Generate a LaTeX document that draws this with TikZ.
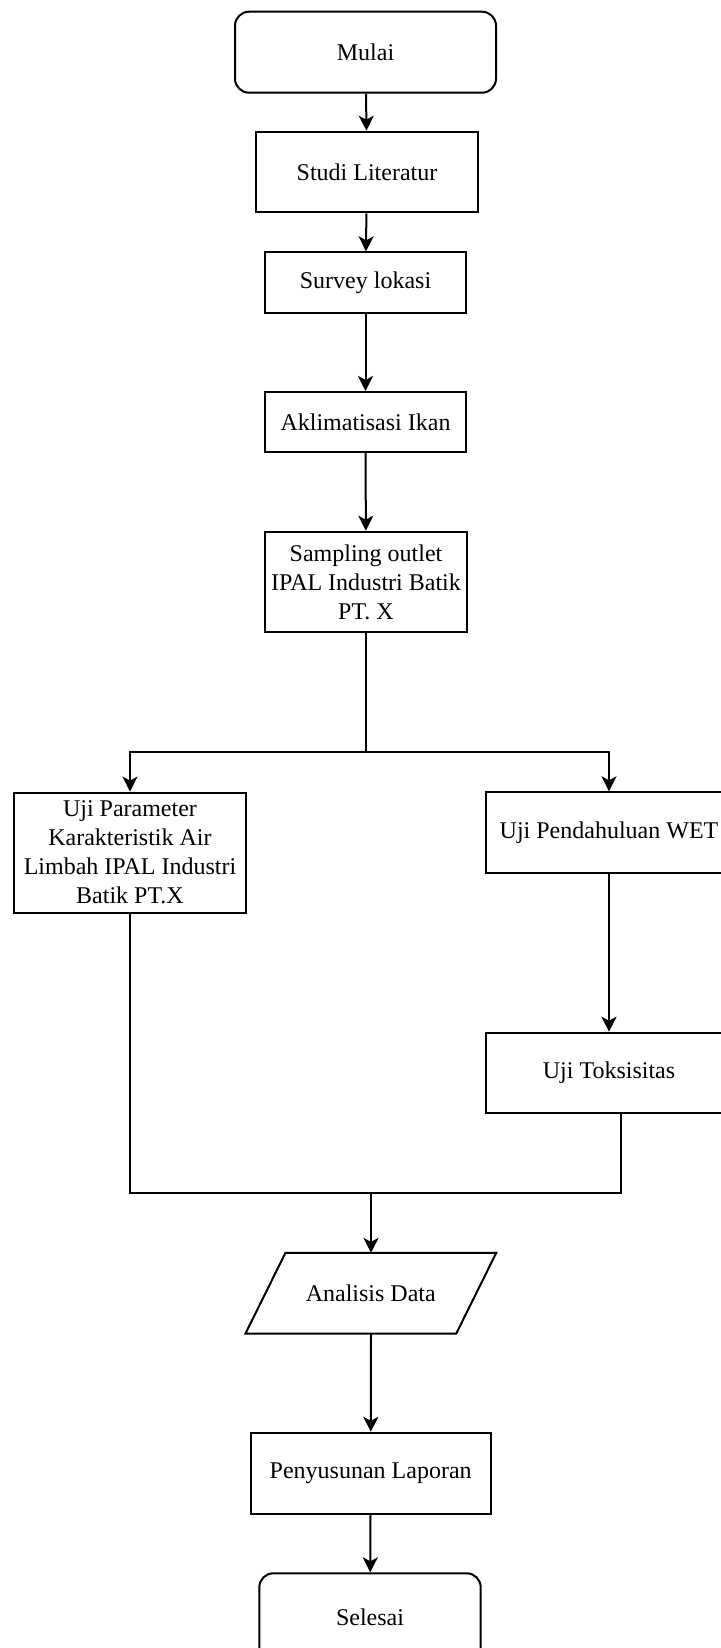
\documentclass[tikz,border=0pt]{standalone}
\usepackage{fontspec}
\setmainfont{Liberation Serif}
\usetikzlibrary{arrows.meta}
\tikzset{
  box/.style={draw, line width=1pt, align=center, inner sep=2pt,
    font=\fontsize{12}{14.5}\selectfont},
  proc/.style={box, rectangle},
  term/.style={box, rectangle, rounded corners=7pt},
  io/.style={rectangle, align=center, inner sep=2pt, font=\fontsize{12}{14.5}\selectfont},
  arr/.style={-{Stealth[length=7.5pt,width=7.5pt,inset=2pt]}, line width=1pt},
  ln/.style={line width=1pt}
}
\begin{document}
\begin{tikzpicture}[x=0.5pt,y=-0.5pt]
    \useasboundingbox (0,0) rectangle (720,1648);
    \node [term, minimum width=130.5pt, minimum height=40.5pt] (mulai) at (365.5,52.2) {Mulai};
    \node [proc, minimum width=111pt, minimum height=40.3pt] (studi) at (367,172) {Studi Literatur};
    \node [proc, minimum width=100.5pt, minimum height=30.2pt] (survey) at (365.5,282.5) {Survey lokasi};
    \node [proc, minimum width=100.5pt, minimum height=30pt] (aklim) at (365.5,422) {Aklimatisasi Ikan};
    \node [proc, minimum width=101pt, minimum height=50.3pt] (sampling) at (366,582) {Sampling outlet\\IPAL Industri Batik\\PT. X};
    \node [proc, minimum width=115.8pt, minimum height=60pt] (param) at (130,852.6) {Uji Parameter\\Karakteristik Air\\Limbah IPAL Industri\\Batik PT.X};
    \node [proc, minimum width=123pt, minimum height=40.2pt] (wet) at (609,832.5) {Uji Pendahuluan WET};
    \node [proc, minimum width=123pt, minimum height=40pt] (toks) at (609,1072.7) {Uji Toksisitas};
    \node [io, minimum width=125pt, minimum height=40pt] (analisis) at (370.8,1293.3) {Analisis Data};
    \draw [ln] ([xshift=20pt]analisis.north west) -- (analisis.north east)
      -- ([xshift=-20pt]analisis.south east) -- (analisis.south west) -- cycle;
    \node [proc, minimum width=120pt, minimum height=40.5pt] (lapor) at (370.7,1473.3) {Penyusunan Laporan};
    \node [term, minimum width=110.7pt, minimum height=44pt] (selesai) at (370,1617.3) {Selesai};
    \coordinate (bagi) at (366,752);
    \coordinate (gabungL) at (130,1193);
    \coordinate (gabungR) at (621,1193);
    \coordinate (gabung) at (371,1193);
    \draw [arr] (mulai) -- (studi);
    \draw [arr] (studi) -- (survey);
    \draw [arr] (survey) -- (aklim);
    \draw [arr] (aklim) -- (sampling);
    \draw [ln] (sampling) -- (bagi);
    \draw [arr] (bagi) -| (param.north);
    \draw [arr] (bagi) -| (wet.north);
    \draw [arr] (wet) -- (toks);
    \draw [ln] (param.south) -- (gabungL) -- (gabungR) -- (toks.south -| gabungR);
    \draw [arr] (gabung) -- (analisis.north -| gabung);
    \draw [arr] (analisis.south -| gabung) -- (lapor);
    \draw [arr] (lapor) -- (selesai);
\end{tikzpicture}
\end{document}
